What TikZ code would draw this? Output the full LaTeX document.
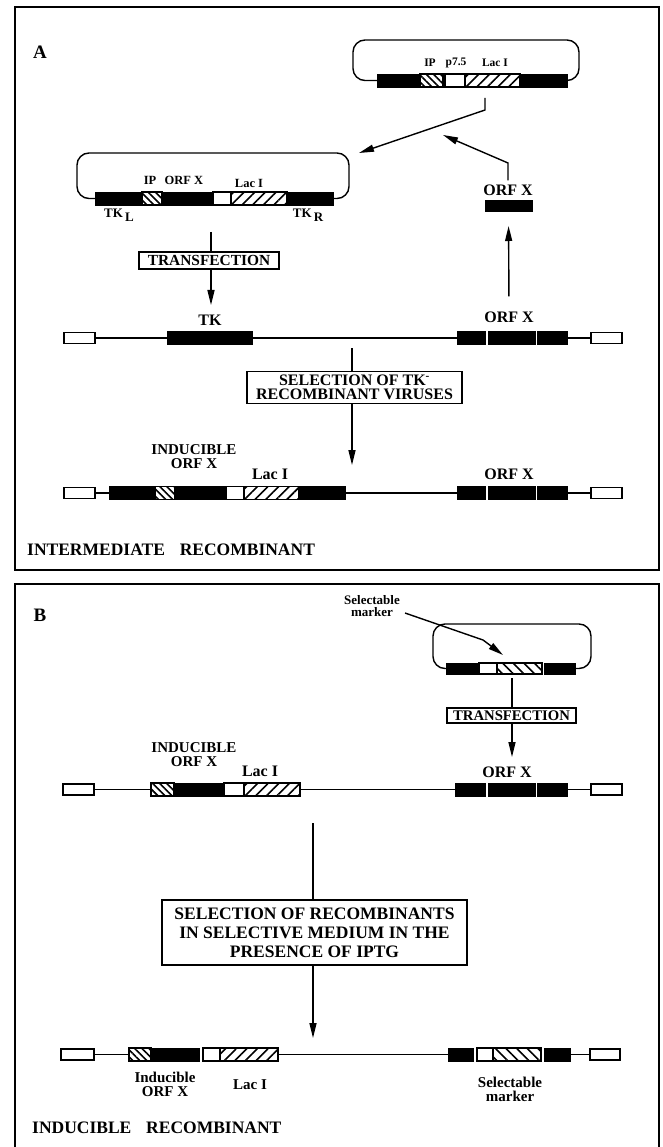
\documentclass[tikz,border=0pt]{standalone}
\usepackage{fontspec}
\setmainfont{Liberation Serif}
\usetikzlibrary{arrows.meta,patterns.meta}

% one piece of a gene bar: name, style, x from, x to, y top, y bottom
\newcommand{\gseg}[6]{%
  \node[#2, minimum width={#4-#3}, minimum height={#6-#5}] (#1) at ({(#3+#4)/2},{(#5+#6)/2}) {};}

\begin{document}
\begin{tikzpicture}[x=1pt, y=-1pt,
  lbl/.style={font=\fontsize{16}{14}\selectfont\bfseries, inner sep=0pt, align=center},
  lbls/.style={font=\fontsize{15}{14}\selectfont\bfseries, inner sep=0pt, align=center},
  sml/.style={font=\fontsize{11.5}{12}\selectfont\bfseries, inner sep=0pt},
  big/.style={font=\fontsize{17.5}{18}\selectfont\bfseries, inner sep=0pt},
  stepbox/.style={draw, line width=1.4pt, inner sep=0pt, align=center},
  blk/.style={draw, fill=black, line width=0.8pt, inner sep=0pt, outer sep=0pt},
  wht/.style={draw, fill=white, line width=1.2pt, inner sep=0pt, outer sep=0pt},
  hatchL/.style={draw, line width=1.2pt, inner sep=0pt, outer sep=0pt,
                 pattern={Lines[angle=-45,distance=5pt,line width=1.6pt]}},
  hatchM/.style={draw, line width=1.2pt, inner sep=0pt, outer sep=0pt,
                 pattern={Lines[angle=-45,distance=7.5pt,line width=1.6pt]}},
  hatchR/.style={draw, line width=1.2pt, inner sep=0pt, outer sep=0pt,
                 pattern={Lines[angle=45,distance=7.5pt,line width=1.6pt]}},
  dna/.style={line width=1.3pt},
  ring/.style={line width=1.4pt, rounded corners=12pt},
  arr/.style={-{Triangle[length=15pt,width=7pt]}, line width=1.4pt},
  frame/.style={line width=1.6pt}]

\useasboundingbox (0,0) rectangle (662,1147);

%%% panel A
\draw[frame] (15,7) rectangle (659,570);
\node[big, font=\fontsize{19}{19}\selectfont\bfseries] (capa) at (40,52) {A};

% plasmid with IP p7.5 Lac I
\gseg{pa1}{blk}{377}{420}{74}{87}
\gseg{pa2}{hatchL}{420}{443}{74}{87}
\gseg{pa3}{wht}{445}{465}{74}{87}
\gseg{pa4}{hatchR}{465}{520}{74}{87}
\gseg{pa5}{blk}{520}{567}{74}{87}
\draw[ring] (pa1.west) -- (353,80.5) -- (353,40) -- (579,40) -- (579,80.5) -- (pa5.east);
\node[sml] (ipa) at (430,63) {IP};
\node[sml] (p75) at (456,63) {p7.5};
\node[sml] (laca) at (495,63) {Lac I};

% plasmid with IP ORF X Lac I
\gseg{pb1}{blk}{95}{142}{192}{205}
\gseg{pb2}{hatchL}{142}{162}{192}{205}
\gseg{pb3}{blk}{162}{213}{192}{205}
\gseg{pb4}{wht}{213}{231}{192}{205}
\gseg{pb5}{hatchR}{231}{287}{192}{205}
\gseg{pb6}{blk}{287}{333}{192}{205}
\draw[ring] (pb1.west) -- (77,198.5) -- (77,153) -- (349,153) -- (349,198.5) -- (pb6.east);
\node[sml, font=\fontsize{12.5}{12}\selectfont\bfseries] (ipb) at (150,180.5) {IP};
\node[sml, font=\fontsize{12.5}{12}\selectfont\bfseries] (orfb) at (184,180.5) {ORF X};
\node[sml, font=\fontsize{12.5}{12}\selectfont\bfseries] (lacb) at (249,183) {Lac I};
\node[sml, font=\fontsize{13}{12}\selectfont\bfseries] (tkl) at (119,215) {TK\,\raisebox{-4pt}{L}};
\node[sml, font=\fontsize{13}{12}\selectfont\bfseries] (tkr) at (308,215) {TK\,\raisebox{-4pt}{R}};

% insertion arrows
\coordinate (cut1) at (485,98);
\coordinate (bend1) at (485,110);
\coordinate (tip1) at (359,153);
\draw[arr] (cut1) -- (bend1) -- (tip1);

\node[lbl] (orfa) at (508,190) {ORF X};
\gseg{orfbox}{blk}{485}{532}{200}{211}
\coordinate (bend2) at (508,163);
\coordinate (tip2) at (443,135);
\draw[arr, shorten <=4pt] (orfa.north) -- (bend2) -- (tip2);

% transfection
\coordinate (drop1) at (211,232);
\node[stepbox, font=\fontsize{15.4}{15}\selectfont\bfseries, minimum width=140pt, minimum height=17pt] (tfa) at (209,260.5) {TRANSFECTION};
\draw[dna] (drop1) -- (drop1 |- tfa.north);
\coordinate (tip3) at (211,305);
\draw[arr] (tfa.south -| drop1) -- (tip3);

% wild type genome
\node[lbl] (tk) at (210,320) {TK};
\node[lbl] (orfg) at (509,317) {ORF X};
\gseg{aw1}{wht}{64}{95}{332.5}{343.5}
\gseg{atk}{blk}{167}{252}{331.5}{344.5}
\gseg{ao1}{blk}{457}{485}{331.5}{344.5}
\gseg{ao2}{blk}{488}{535}{331.5}{344.5}
\gseg{ao3}{blk}{537}{567}{331.5}{344.5}
\gseg{aw2}{wht}{591}{622}{332.5}{343.5}
\draw[dna] (aw1) -- (atk) -- (ao1);
\draw[dna] (ao3) -- (aw2);
\draw[arr, shorten <=15pt, shorten >=15pt] (orfg.north) -- (orfbox.south);

% selection
\coordinate (drop2) at (352,348);
\node[stepbox, font=\fontsize{16}{14.5}\selectfont\bfseries, minimum width=215pt, minimum height=32pt] (sela) at (354.5,387.5) {SELECTION OF TK\textsuperscript{-}\\RECOMBINANT VIRUSES};
\draw[dna] (drop2) -- (drop2 |- sela.north);
\coordinate (tip4) at (352,465);
\draw[arr] (sela.south -| drop2) -- (tip4);

% intermediate recombinant
\node[lbls] (inda) at (194,457) {INDUCIBLE\\ORF X};
\node[lbl] (lacc) at (270,474) {Lac I};
\node[lbl] (orfc) at (509,474) {ORF X};
\gseg{cw1}{wht}{64}{95}{487.5}{498.5}
\gseg{c1}{blk}{109}{155}{486.5}{499.5}
\gseg{c2}{hatchL}{155}{175}{486.5}{499.5}
\gseg{c3}{blk}{175}{224}{486.5}{499.5}
\gseg{c4}{wht}{226}{244}{486.5}{499.5}
\gseg{c5}{hatchR}{244}{299}{486.5}{499.5}
\gseg{c6}{blk}{299}{345}{486.5}{499.5}
\gseg{co1}{blk}{457}{485}{486.5}{499.5}
\gseg{co2}{blk}{488}{535}{486.5}{499.5}
\gseg{co3}{blk}{537}{567}{486.5}{499.5}
\gseg{cw2}{wht}{591}{622}{487.5}{498.5}
\draw[dna] (cw1) -- (c1);
\draw[dna] (c6) -- (co1);
\draw[dna] (co3) -- (cw2);
\node[big, anchor=west] (interm) at (27,550) {INTERMEDIATE\hspace{0.85em}RECOMBINANT};

%%% panel B
\draw[frame] (15,1147) -- (15,584) -- (659,584) -- (659,1147);
\node[big, font=\fontsize{19}{19}\selectfont\bfseries] (capb) at (40,615) {B};

% plasmid with selectable marker
\node[lbls, font=\fontsize{13}{12}\selectfont\bfseries] (selm) at (372,606) {Selectable\\marker};
\gseg{pc1}{blk}{446}{477}{663}{674}
\gseg{pc2}{wht}{479}{497}{663}{674}
\gseg{pc3}{hatchM}{497}{542}{663}{674}
\gseg{pc4}{blk}{544}{575}{663}{674}
\draw[ring] (pc1.west) -- (433,668.5) -- (433,624) -- (591,624) -- (591,668.5) -- (pc4.east);
\coordinate (mstart) at (405,613);
\coordinate (mbend) at (483,640);
\coordinate (tip5) at (503,655);
\draw[arr] (mstart) -- (mbend) -- (tip5);

\coordinate (drop3) at (512,678);
\node[stepbox, font=\fontsize{14.7}{14}\selectfont\bfseries, minimum width=129pt, minimum height=15pt] (tfb) at (511.5,715.5) {TRANSFECTION};
\draw[dna] (drop3) -- (drop3 |- tfb.north);
\coordinate (tip6) at (512,757);
\draw[arr] (tfb.south -| drop3) -- (tip6);

% intermediate genome
\node[lbls] (indb) at (194,754.5) {INDUCIBLE\\ORF X};
\node[lbl] (lacd) at (260,771) {Lac I};
\node[lbl] (orfd) at (507,772) {ORF X};
\gseg{dw1}{wht}{63}{94}{784}{795}
\gseg{d1}{hatchL}{151}{174}{783}{796}
\gseg{d2}{blk}{174}{222}{783}{796}
\gseg{d3}{wht}{224}{244}{783}{796}
\gseg{d4}{hatchR}{244}{300}{783}{796}
\gseg{do1}{blk}{455}{485}{783}{796}
\gseg{do2}{blk}{488}{535}{783}{796}
\gseg{do3}{blk}{537}{567}{783}{796}
\gseg{dw2}{wht}{591}{622}{784}{795}
\draw[dna] (dw1) -- (d1);
\draw[dna] (d4) -- (do1);
\draw[dna] (do3) -- (dw2);

% selection in IPTG
\coordinate (drop4) at (313,823);
\node[stepbox, font=\fontsize{17.5}{19}\selectfont\bfseries, minimum width=305pt, minimum height=65pt] (selb) at (314.5,932.5) {SELECTION OF RECOMBINANTS\\IN SELECTIVE MEDIUM IN THE\\PRESENCE OF IPTG};
\draw[dna] (drop4) -- (drop4 |- selb.north);
\coordinate (tip7) at (313,1038);
\draw[arr] (selb.south -| drop4) -- (tip7);

% inducible recombinant
\gseg{ew1}{wht}{61}{94}{1049}{1060}
\gseg{e1}{hatchL}{129}{151}{1048}{1061}
\gseg{e2}{blk}{151}{199}{1048}{1061}
\gseg{e3}{wht}{203}{220}{1048}{1061}
\gseg{e4}{hatchR}{220}{278}{1048}{1061}
\gseg{e5}{blk}{448}{473}{1048}{1061}
\gseg{e6}{wht}{477}{493}{1048}{1061}
\gseg{e7}{hatchM}{493}{541}{1048}{1061}
\gseg{e8}{blk}{544}{570}{1048}{1061}
\gseg{ew2}{wht}{590}{620}{1049}{1060}
\draw[dna] (ew1) -- (e1);
\draw[dna] (e4) -- (e5);
\draw[dna] (e8) -- (ew2);
\node[lbls] (inde) at (165,1084) {Inducible\\ORF X};
\node[lbls] (lace) at (250,1085) {Lac I};
\node[lbls] (sele) at (510,1089.5) {Selectable\\marker};
\node[big, anchor=west] (induc) at (32,1128) {INDUCIBLE\hspace{0.85em}RECOMBINANT};
\end{tikzpicture}
\end{document}
